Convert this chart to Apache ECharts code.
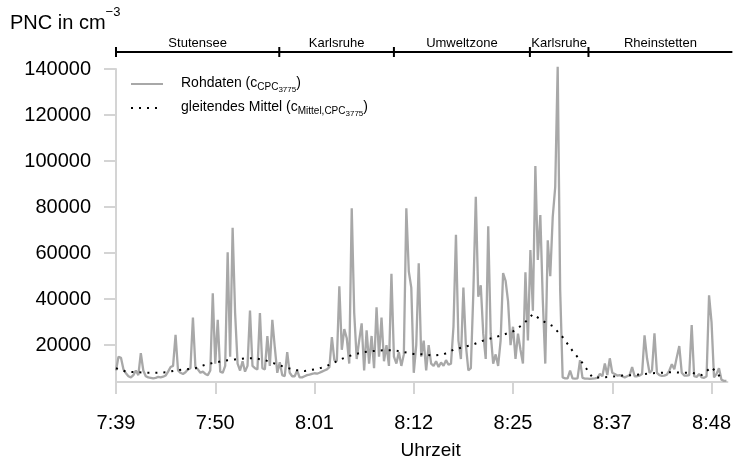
<!DOCTYPE html>
<html>
<head>
<meta charset="utf-8">
<script src="https://cdn.jsdelivr.net/npm/echarts@6/dist/echarts.min.js"></script>
<style>
  html, body { margin: 0; padding: 0; background: #fff; }
  #chart { width: 734px; height: 469px; }
</style>
</head>
<body>
<div id="chart"></div>
<script>
// x axis: one tick every 10 units, labels
const timeLabels = ["7:39", "7:50", "8:01", "8:12", "8:25", "8:37", "8:48"];
const yTicks = [20000, 40000, 60000, 80000, 100000, 120000, 140000];

// route segments (start/end in x units)
const segNames = ["Stutensee", "Karlsruhe", "Umweltzone", "Karlsruhe", "Rheinstetten"];
const segBounds = [0, 16.45, 28.0, 41.7, 47.6, 62.1];

// raw CPC data, one sample every 0.25 x units
const RAW_STEP = 0.25;
const rawValues = [
  9000, 15000, 14500, 9500, 7800, 6500, 6000, 7000, 9000, 7000,
  16500, 9000, 6500, 6000, 5800, 5600, 5800, 6200, 6000, 6300,
  6800, 8500, 10500, 11000, 24500, 9000, 8000, 7500, 8200, 9500,
  10000, 32000, 10500, 9500, 8000, 8500, 7500, 7000, 9000, 42500,
  12000, 31000, 8500, 8000, 11000, 60400, 15000, 71000, 34000, 12000,
  9000, 13000, 8500, 11000, 35000, 11000, 10000, 9500, 34000, 10000,
  9500, 24000, 11000, 31000, 19000, 8000, 12600, 7000, 6500, 17000,
  8000, 6500, 6500, 9000, 6000, 6000, 6500, 7000, 7200, 7500,
  7800, 7600, 8000, 8500, 9000, 9500, 10500, 23500, 13500, 13000,
  45600, 18000, 27000, 23000, 12000, 79500, 34000, 14000, 22000, 29500,
  9000, 26500, 12000, 24000, 10000, 36500, 15000, 32000, 13000, 20000,
  11000, 51000, 15000, 12000, 17000, 11000, 16000, 79500, 52000, 45000,
  8000, 20000, 55600, 15000, 22000, 9000, 20000, 12000, 11000, 13000,
  10500, 12500, 11000, 13500, 11500, 12000, 28000, 68000, 22000, 14000,
  45000, 20000, 9000, 10000, 42500, 84500, 41000, 46000, 25000, 14000,
  71700, 25000, 12000, 16000, 11000, 22000, 51300, 48000, 39000, 20000,
  28000, 14000, 25000, 18000, 12000, 51700, 22000, 61300, 35000, 97800,
  57000, 76500, 39500, 12000, 65600, 50000, 75700, 88700, 141000, 44000,
  6000, 5600, 5600, 9000, 5600, 5500, 5600, 13500, 5800, 5500,
  5500, 5400, 5500, 5600, 5800, 7500, 6500, 12000, 7000, 14300,
  8000, 7500, 6800, 7000, 6500, 6000, 6500, 7000, 10500, 6500,
  6500, 6800, 7500, 24300, 14300, 8000, 9000, 25200, 8000, 7000,
  6700, 6800, 7200, 9000, 11700, 9500, 14800, 19600, 8000, 6800,
  6800, 7000, 28700, 6500, 6200, 7500, 6000, 5800, 6500, 41700,
  30000, 6000, 7500, 10000, 5000, 4500, 4500
];

// moving average, one value per x unit
const AVG_STEP = 1;
const avgValues = [
  10000, 8500, 8300, 8000, 8000, 8200, 9000, 9500, 10000, 11500,
  12500, 13300, 13800, 14300, 14300, 13500, 12000, 10500, 9200, 8800,
  9500, 10500, 12500, 14500, 16000, 17000, 17500, 17800, 17800, 17000,
  16200, 16000, 15500, 16000, 18000, 19200, 20300, 22000, 23200, 24500,
  26000, 29000, 33500, 30500, 28300, 23500, 17500, 12200, 6000, 6000,
  6300, 6800, 7000, 7300, 7800, 8000, 8300, 8000, 8000, 7000,
  10500, 5600
];

const FONT = "'Liberation Sans', Arial, Helvetica, sans-serif";
const AXIS_GREY = "#d4d4d4";

const rawData = rawValues.map((v, i) => [i * RAW_STEP, v]);
const avgData = avgValues.map((v, i) => [i * AVG_STEP, v]);
const segData = segNames.map((n, i) => [segBounds[i], segBounds[i + 1], 140000]);

const legendRich = {
  f: { fontSize: 14, fontFamily: FONT, color: "#000", verticalAlign: "top", lineHeight: 16, padding: [0, 0, 0, 13] },
  n: { fontSize: 14, fontFamily: FONT, color: "#000", verticalAlign: "top", lineHeight: 16 },
  s: { fontSize: 10, fontFamily: FONT, color: "#000", verticalAlign: "top", lineHeight: 11, padding: [6, 0, 0, 0] },
  ss: { fontSize: 8, fontFamily: FONT, color: "#000", verticalAlign: "top", lineHeight: 9, padding: [10, 0, 0, 0] }
};

const chart = echarts.init(document.getElementById("chart"), null, { renderer: "canvas" });

chart.setOption({
  animation: false,
  backgroundColor: "#fff",
  title: {
    left: 5,
    top: 1,
    text: "{a|PNC in cm}{b|\u22123}",
    textStyle: {
      fontWeight: "normal",
      rich: {
        a: { fontSize: 20, fontFamily: FONT, fontWeight: "normal", color: "#000", verticalAlign: "bottom", lineHeight: 27 },
        b: { fontSize: 13, fontFamily: FONT, fontWeight: "normal", color: "#000", verticalAlign: "top", lineHeight: 14 }
      }
    }
  },
  legend: {
    orient: "vertical",
    left: 130,
    top: 76,
    padding: 0,
    itemWidth: 32,
    itemHeight: 14,
    itemGap: 6,
    itemStyle: { opacity: 0 },
    data: ["raw", "avg"],
    formatter: function (name) {
      if (name === "raw") return "{f|Rohdaten (c}{s|CPC}{ss|3775}{n|)}";
      return "{f|gleitendes Mittel (c}{s|Mittel,CPC}{ss|3775}{n|)}";
    },
    textStyle: { rich: legendRich }
  },
  grid: { left: 116, right: 0, top: 69, bottom: 87 },
  xAxis: {
    type: "value",
    min: 0,
    max: 61.6,
    interval: 10,
    name: "Uhrzeit",
    nameLocation: "middle",
    nameGap: 59,
    nameTextStyle: { fontSize: 19, fontFamily: FONT, color: "#000", padding: [0, 0, 0, 18] },
    axisLine: { onZero: false, lineStyle: { color: AXIS_GREY, width: 2 } },
    axisTick: { length: 12, lineStyle: { color: AXIS_GREY, width: 2 } },
    axisLabel: {
      margin: 31,
      fontSize: 20,
      fontFamily: FONT,
      color: "#000",
      formatter: (v) => timeLabels[Math.round(v / 10)] || ""
    },
    splitLine: { show: false }
  },
  yAxis: {
    type: "value",
    min: 4000,
    max: 140000,
    axisLine: { show: true, lineStyle: { color: AXIS_GREY, width: 2 } },
    axisTick: { show: true, length: 12, customValues: yTicks, lineStyle: { color: AXIS_GREY, width: 2 } },
    axisLabel: {
      margin: 25,
      fontSize: 20,
      fontFamily: FONT,
      color: "#000",
      customValues: yTicks,
      formatter: (v) => String(v)
    },
    splitLine: { show: false }
  },
  series: [
    {
      name: "raw",
      type: "line",
      data: rawData,
      showSymbol: false,
      symbol: "none",
      clip: false,
      lineStyle: { color: "#a8a8a8", width: 2.3 },
      itemStyle: { color: "#a8a8a8" },
      z: 2
    },
    {
      name: "avg",
      type: "line",
      data: avgData,
      showSymbol: false,
      symbol: "none",
      lineStyle: { color: "#000", width: 2, type: [2, 6] },
      itemStyle: { color: "#000" },
      z: 3
    },
    {
      type: "custom",
      clip: false,
      silent: true,
      data: segData,
      encode: { x: [0, 1], y: 2 },
      renderItem: function (params, api) {
        const x0 = api.coord([api.value(0), 140000])[0];
        const x1 = api.coord([api.value(1), 140000])[0];
        const yLine = params.coordSys.y - 17;
        return {
          type: "group",
          children: [
            { type: "line", shape: { x1: x0, y1: yLine, x2: x1, y2: yLine }, style: { stroke: "#000", lineWidth: 2 } },
            { type: "line", shape: { x1: x0, y1: yLine - 5, x2: x0, y2: yLine + 5 }, style: { stroke: "#000", lineWidth: 2 } },
            {
              type: "text",
              style: {
                text: segNames[params.dataIndex],
                x: (x0 + x1) / 2,
                y: yLine - 9,
                align: "center",
                verticalAlign: "middle",
                fontSize: 13,
                fontFamily: FONT,
                fill: "#000"
              }
            }
          ]
        };
      }
    }
  ]
});
</script>
</body>
</html>
